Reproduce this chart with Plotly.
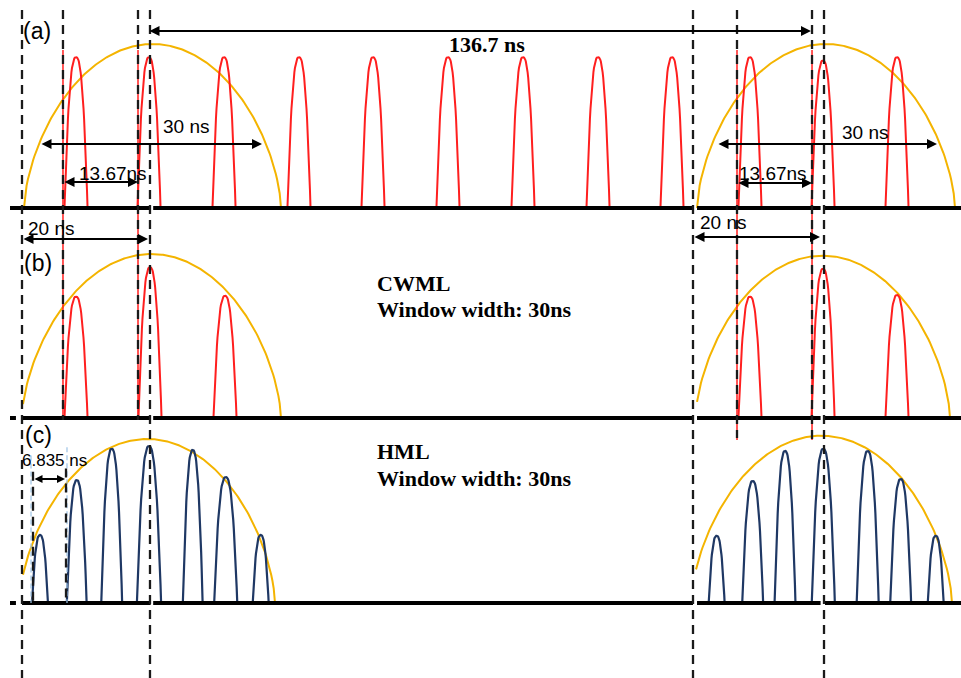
import numpy as np
import plotly.graph_objects as go

# ---------------- data (time in ns on a schematic axis, amplitude in a.u.) ----------------
# panel (a): full pulse train, 13.67 ns period
A_RED_T = [9.82, 23.09, 36.73, 50.36, 63.82, 77.45, 91.09, 104.73, 118.18, 132.36, 145.64, 159.09]
A_RED_H = [0.92, 0.92, 0.92, 0.92, 0.92, 0.92, 0.92, 0.92, 0.92, 0.92, 0.90, 0.92]
# panel (b): CWML, pulses kept inside the 30 ns window
B_RED_T = [9.82, 23.27, 36.91, 132.36, 145.64, 159.09]
B_RED_H = [0.74, 0.92, 0.745, 0.74, 0.91, 0.75]
# panel (c): HML, 6.835 ns spacing
C_NAVY_T = [3.27, 9.95, 16.31, 23.09, 31.04, 37.04, 43.40,
            126.30, 132.85, 138.73, 145.69, 153.76, 159.76, 166.13]
C_NAVY_H = [0.415, 0.75, 0.94, 0.957, 0.933, 0.768, 0.415,
            0.41, 0.744, 0.927, 0.94, 0.927, 0.756, 0.41]
C_NAVY_W = [2.9, 3.6, 3.8, 4.4, 3.6, 4.2, 2.9,
            2.9, 3.8, 3.8, 4.2, 4.0, 3.8, 2.9]
RED_W = 4.2

# window envelopes: (start, end, visible-from, peak)
ENV_A = [(0.36, 47.09, 0.36, 1.0), (122.73, 169.64, 122.73, 1.0)]
ENV_B = [(-0.04, 47.09, 0.18, 1.0), (122.45, 168.73, 122.73, 0.99)]
ENV_C = [(-0.51, 46.00, 0.18, 1.0), (121.64, 169.09, 122.55, 1.02)]

# time markers (dashed lines)
MARK_T = [0.0, 7.45, 21.09, 23.27, 122.0, 130.0, 143.64, 145.82]

# dimension arrows: (t_start, t_end, label)
ARROWS_A = [(22.91, 143.45, "136.7 ns"), (3.27, 43.64, "30 ns"), (7.45, 21.09, "13.67ns"),
            (0.0, 22.91, "20 ns"), (126.36, 166.36, "30 ns"), (130.0, 143.64, "13.67ns"),
            (122.0, 145.09, "20 ns")]
ARROW_C = (2.0, 7.82, "6.835 ns")

# ---------------- layout constants ----------------
X_MIN = -4.0
X_MAX = X_MIN + 961 / 5.5
Y_MAX = 678 / 164
BASE_A, BASE_B, BASE_C = 470 / 164, 260 / 164, 75 / 164

RED = "#ff1f1f"
YEL = "#f4b400"
NAVY = "#1f3864"
DASHC = "#1a1a1a"


def pulses(ts, hs, ws, base, q=2.5, n=41):
    xs, ys = [], []
    u = np.linspace(-1, 1, n)
    for t, h, w in zip(ts, hs, ws):
        xs += list(t + u * w / 2) + [None]
        ys += list(base + h * (1 - np.abs(u) ** q)) + [None]
    return xs, ys


def envelopes(envs, base, p=0.62, n=200):
    xs, ys = [], []
    for s, e, vis, pk in envs:
        x = np.linspace(max(s, vis), e, n)
        c, a = (s + e) / 2, (e - s) / 2
        u = np.clip((x - c) / a, -1, 1)
        xs += list(x) + [None]
        ys += list(base + pk * (1 - u ** 2) ** p) + [None]
    return xs, ys


fig = go.Figure()

# envelopes
for envs, base in [(ENV_A, BASE_A), (ENV_B, BASE_B), (ENV_C, BASE_C)]:
    x, y = envelopes(envs, base)
    fig.add_trace(go.Scatter(x=x, y=y, mode="lines", line=dict(color=YEL, width=2)))

# red guide lines under some dashed markers
rx, ry = [], []
for t, bot in [(7.45, BASE_B), (21.09, BASE_B), (130.0, BASE_B - 0.134), (143.64, BASE_B - 0.134)]:
    rx += [t, t, None]
    ry += [BASE_A + 0.963, bot, None]
fig.add_trace(go.Scatter(x=rx, y=ry, mode="lines", line=dict(color=RED, width=1.5)))

# red pulses
x, y = pulses(A_RED_T, A_RED_H, [RED_W] * len(A_RED_T), BASE_A)
fig.add_trace(go.Scatter(x=x, y=y, mode="lines", line=dict(color=RED, width=2)))
x, y = pulses(B_RED_T, B_RED_H, [RED_W] * len(B_RED_T), BASE_B)
fig.add_trace(go.Scatter(x=x, y=y, mode="lines", line=dict(color=RED, width=2)))
# navy pulses
x, y = pulses(C_NAVY_T, C_NAVY_H, C_NAVY_W, BASE_C)
fig.add_trace(go.Scatter(x=x, y=y, mode="lines", line=dict(color=NAVY, width=2.2)))

# baselines (small gaps where the full-height markers cross)
gaps = [(23.4, 23.85), (122.0, 122.73), (145.2, 146.0)]
for base, g0 in [(BASE_A, []), (BASE_B, [(-1.1, 0.0)]), (BASE_C, [(-1.1, 0.0)])]:
    allg = sorted(g0 + gaps)
    bx, by = [], []
    cur = -2.18
    for a, b in allg:
        bx += [cur, a, None]
        by += [base, base, None]
        cur = b
    bx += [cur, X_MAX]
    by += [base, base]
    fig.add_trace(go.Scatter(x=bx, y=by, mode="lines", line=dict(color="black", width=4)))

# light-blue markers in (c)
fig.add_trace(go.Scatter(x=[1.64, 1.64, None, 8.18, 8.18], y=[BASE_C + 0.90, BASE_C, None, BASE_C + 0.95, BASE_C],
                         mode="lines", line=dict(color="#9dc3e6", width=1.2, dash="5px,3px")))
# dashed time markers
MARK_BOTTOM = [0, BASE_B - 0.012, BASE_B - 0.012, 0, 0, BASE_B - 0.122, BASE_B - 0.146, 0]
dx, dy = [], []
for t, bot in zip(MARK_T, MARK_BOTTOM):
    dx += [t, t, None]
    dy += [BASE_A + 1.207, bot, None]
dx += [2.0, 2.0, None, 8.0, 8.0]
dy += [BASE_C + 0.80, BASE_C, None, BASE_C + 0.82, BASE_C]
fig.add_trace(go.Scatter(x=dx, y=dy, mode="lines", line=dict(color=DASHC, width=2.3, dash="9px,6px")))

# ---------------- arrows & labels ----------------
arrow_y = [BASE_A + 1.079, BASE_A + 0.39, BASE_A + 0.159, BASE_A - 0.189,
           BASE_A + 0.39, BASE_A + 0.152, BASE_A - 0.177]
label_pos = [(84.55, BASE_A + 0.994), (29.82, BASE_A + 0.494), (16.55, BASE_A + 0.213),
             (5.27, BASE_A - 0.128), (153.27, BASE_A + 0.463), (136.55, BASE_A + 0.213),
             (127.45, BASE_A - 0.091)]
ann = []
for (t0, t1, lab), yy, (lx, ly) in zip(ARROWS_A, arrow_y, label_pos):
    ann.append(dict(x=t1, y=yy, ax=t0, ay=yy, xref="x", yref="y", axref="x", ayref="y",
                    text="", showarrow=True, arrowhead=2, startarrowhead=2, arrowside="end+start",
                    arrowsize=1, startarrowsize=1, arrowwidth=2, arrowcolor="black",
                    standoff=0, startstandoff=0))
    if lab == "136.7 ns":
        f = dict(family="Liberation Serif", size=22, color="black")
        txt = "<b>" + lab + "</b>"
    else:
        f = dict(family="Liberation Sans", size=19, color="black")
        txt = lab
    ann.append(dict(x=lx, y=ly, xref="x", yref="y", text=txt, showarrow=False, font=f,
                    xanchor="center", yanchor="middle"))

t0, t1, lab = ARROW_C
ann.append(dict(x=t1, y=BASE_C + 0.756, ax=t0, ay=BASE_C + 0.756, xref="x", yref="y", axref="x", ayref="y",
                text="", showarrow=True, arrowhead=2, startarrowhead=2, arrowside="end+start",
                arrowsize=0.8, startarrowsize=0.8, arrowwidth=2, arrowcolor="black", standoff=0, startstandoff=0))
ann.append(dict(x=5.82, y=BASE_C + 0.866, xref="x", yref="y", text=lab, showarrow=False,
                font=dict(family="Liberation Sans", size=17, color="black"), xanchor="center", yanchor="middle"))

for txt, x0, y0 in [("(a)", 2.73, BASE_A + 1.079), ("(b)", 2.91, BASE_B + 0.945), ("(c)", 2.91, BASE_C + 1.024)]:
    ann.append(dict(x=x0, y=y0, xref="x", yref="y", text=txt, showarrow=False,
                    font=dict(family="Liberation Sans", size=23, color="black"),
                    xanchor="center", yanchor="middle"))

serif = dict(family="Liberation Serif", size=22, color="black")
for txt, y0 in [("CWML", BASE_B + 0.823), ("Window width: 30ns", BASE_B + 0.659),
                ("HML", BASE_C + 0.921), ("Window width: 30ns", BASE_C + 0.762)]:
    ann.append(dict(x=64.18, y=y0, xref="x", yref="y", text="<b>" + txt + "</b>", showarrow=False,
                    font=serif, xanchor="left", yanchor="middle"))

fig.update_layout(
    width=961, height=678, autosize=False,
    margin=dict(l=0, r=0, t=0, b=0),
    paper_bgcolor="white", plot_bgcolor="white",
    showlegend=False, hovermode=False,
    xaxis=dict(range=[X_MIN, X_MAX], visible=False, fixedrange=True),
    yaxis=dict(range=[0, Y_MAX], visible=False, fixedrange=True),
    annotations=ann,
)
fig.write_html("out.html")
